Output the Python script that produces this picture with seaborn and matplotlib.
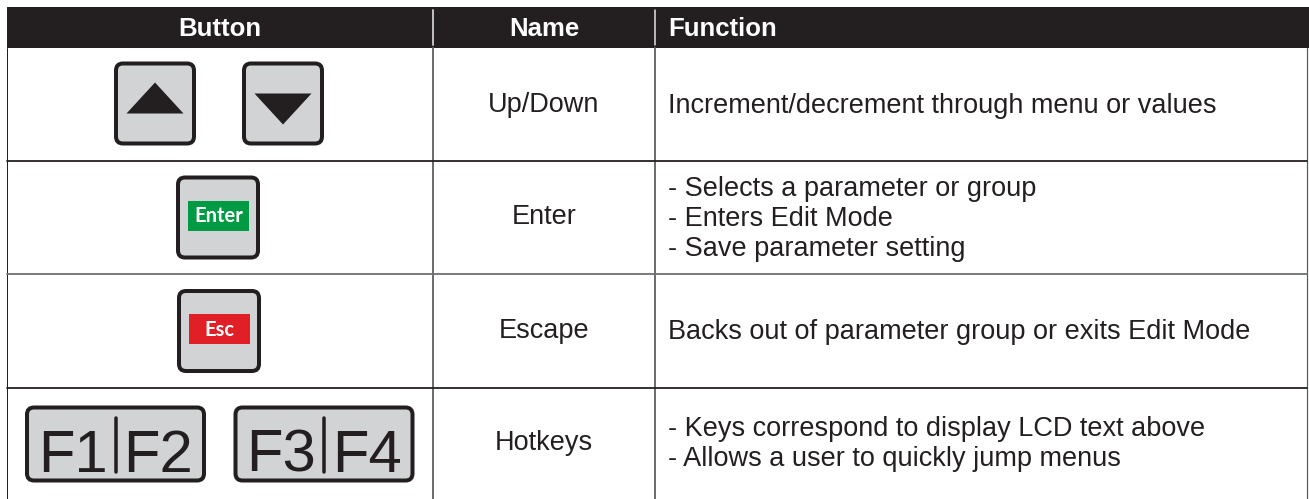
import matplotlib
matplotlib.use("Agg")
import matplotlib.pyplot as plt
from matplotlib.patches import Rectangle, FancyBboxPatch, Polygon
import seaborn as sns

# table content
columns = ["Button", "Name", "Function"]
names = ["Up/Down", "Enter", "Escape", "Hotkeys"]
functions = [
    ["Increment/decrement through menu or values"],
    ["- Selects a parameter or group", "- Enters Edit Mode", "- Save parameter setting"],
    ["Backs out of parameter group or exits Edit Mode"],
    ["- Keys correspond to display LCD text above", "- Allows a user to quickly jump menus"],
]
hotkeys = [["F1", "F2"], ["F3", "F4"]]
key_labels = ["Enter", "Esc"]

# layout (pixels)
W, H = 1309, 499
col_edges = [7, 433, 655, 1307]
row_edges = [7, 48, 161, 274, 388, 499]

DARK = "#231f20"
GRAY = "#6d6e71"
KEY = "#d1d3d4"
GREEN = "#009a44"
RED = "#e11f26"

sns.set_theme(style="white")
plt.rcParams["font.family"] = ["Liberation Sans", "DejaVu Sans"]

fig = plt.figure(figsize=(W / 100, H / 100), dpi=100)
ax = fig.add_axes([0, 0, 1, 1])
ax.set_xlim(0, W)
ax.set_ylim(H, 0)
ax.axis("off")

PX = 0.72  # points per pixel
BODY = 19.5


def key_box(cx, cy, w, h):
    ax.add_patch(FancyBboxPatch((cx - w / 2, cy - h / 2), w, h,
                                boxstyle="round,pad=0,rounding_size=7",
                                fc=KEY, ec=DARK, lw=4 * PX, zorder=3))


# header band
ax.add_patch(Rectangle((col_edges[0], row_edges[0]), W - col_edges[0],
                       row_edges[1] - row_edges[0], fc=DARK, ec="none", zorder=1))
ax.plot([col_edges[1]] * 2, [row_edges[0] + 3, row_edges[1] - 3], color="#bcbec0", lw=2 * PX, zorder=2)
ax.plot([col_edges[2]] * 2, [row_edges[0] + 3, row_edges[1] - 3], color="#e6e7e8", lw=1.5 * PX, zorder=2)
hy = (row_edges[0] + row_edges[1]) / 2 + 1
for j, ha in enumerate(["center", "center", "left"]):
    x = (col_edges[j] + col_edges[j + 1]) / 2 if ha == "center" else col_edges[j] + 13
    ax.text(x, hy, columns[j], color="white", fontsize=18.5, fontweight="bold",
            ha=ha, va="center")

# grid lines
for x in col_edges[1:3]:
    ax.plot([x, x], [row_edges[1], H], color=GRAY, lw=2 * PX, zorder=2)
ax.plot([col_edges[0]] * 2, [row_edges[1], H], color=DARK, lw=1 * PX, zorder=2)
ax.plot([col_edges[3]] * 2, [row_edges[1], H], color="#58595b", lw=1.2 * PX, zorder=2)
for i, y in enumerate(row_edges[2:5]):
    color = GRAY if i == 1 else DARK
    ax.plot([col_edges[0], col_edges[3]], [y, y], color=color, lw=1.8 * PX, zorder=2)

# name and function columns
for i, (name, func) in enumerate(zip(names, functions)):
    cy = (row_edges[i + 1] + row_edges[i + 2]) / 2
    ax.text((col_edges[1] + col_edges[2]) / 2, cy, name, fontsize=BODY, color=DARK,
            ha="center", va="center")
    ax.text(col_edges[2] + 13, cy + 1, "\n".join(func), fontsize=BODY, color=DARK,
            ha="left", va="center", linespacing=1.2)

bx = (col_edges[0] + col_edges[1]) / 2

# up / down keys
cy = (row_edges[1] + row_edges[2]) / 2 - 1
for dx, sign in [(-65, 1), (63, -1)]:
    cx = bx + dx
    key_box(cx, cy, 78, 80)
    tip = cy - sign * 21
    base = cy + sign * 10
    ax.add_patch(Polygon([(cx - 28.5, base), (cx + 28.5, base), (cx, tip)],
                         closed=True, fc=DARK, ec="none", zorder=4))

# enter / escape keys
for i, (label, color) in enumerate(zip(key_labels, [GREEN, RED])):
    cy = (row_edges[i + 2] + row_edges[i + 3]) / 2
    cx = bx - 2 + i
    key_box(cx, cy, 80, 80)
    ax.add_patch(Rectangle((cx - 30, cy - 17), 61, 30, fc=color, ec="none", zorder=4))
    ax.text(cx + 0.5, cy - 1.5, label, color="white", fontsize=14.5, fontweight="bold",
            family=["Lato", "Noto Sans", "DejaVu Sans"], ha="center", va="center", zorder=5)

# hotkeys
cy = (row_edges[4] + row_edges[5]) / 2 + 0.5
for dx, pair in zip([-104.5, 104], hotkeys):
    cx = bx + dx
    key_box(cx, cy, 177, 73)
    ax.plot([cx, cx], [cy - 26, cy + 28], color=DARK, lw=3.5 * PX, zorder=4,
            solid_capstyle="round")
    for off, lab in zip([-43, 43], pair):
        ax.text(cx + off, cy + 28, lab, fontsize=43, color=DARK, ha="center", va="baseline",
                zorder=5)

fig.savefig("out.png", dpi=100, facecolor="white")
